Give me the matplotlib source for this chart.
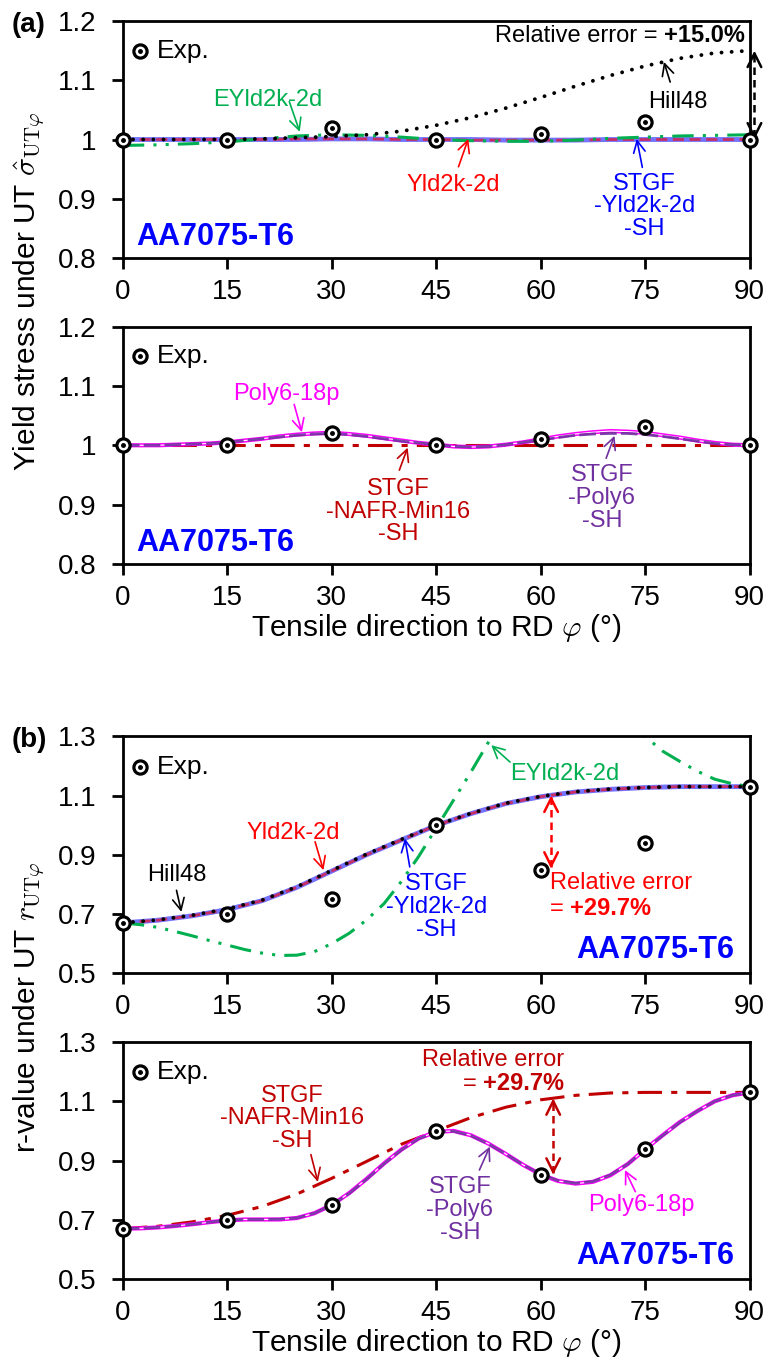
import numpy as np
import matplotlib
matplotlib.use('Agg')
import matplotlib.pyplot as plt

plt.rcParams['font.family'] = ['Liberation Sans', 'DejaVu Sans']
plt.rcParams['mathtext.fontset'] = 'cm'

# ---- data ----
ang_exp = [0, 15, 30, 45, 60, 75, 90]
sig_exp = [1.00, 1.00, 1.02, 1.00, 1.01, 1.03, 1.00]
r_exp = [0.67, 0.70, 0.75, 1.00, 0.85, 0.94, 1.13]

# 5 deg grid for the smooth curves, 2.5 deg grid for the wavy ones
ang = [0, 5, 10, 15, 20, 25, 30, 35, 40, 45, 50, 55, 60, 65, 70, 75, 80, 85, 90]
ang_f = [0, 2.5, 5, 7.5, 10, 12.5, 15, 17.5, 20, 22.5, 25, 27.5, 30, 32.5, 35, 37.5, 40, 42.5,
         45, 47.5, 50, 52.5, 55, 57.5, 60, 62.5, 65, 67.5, 70, 72.5, 75, 77.5, 80, 82.5, 85,
         87.5, 90]

# yield stress curves
sig_hill48 = [1.000, 1.000, 1.000, 1.000, 1.001, 1.003, 1.005, 1.008, 1.014, 1.024, 1.037,
              1.053, 1.071, 1.090, 1.108, 1.124, 1.137, 1.146, 1.150]
sig_eyld = [0.990, 0.991, 0.993, 0.996, 1.001, 1.006, 1.008, 1.007, 1.004, 1.000, 0.998,
            0.997, 0.997, 0.999, 1.002, 1.004, 1.006, 1.007, 1.008]
sig_yld = [1.000, 1.000, 1.000, 1.000, 1.000, 1.001, 1.001, 1.001, 1.000, 1.000, 0.999,
           0.999, 0.999, 0.999, 1.000, 1.000, 1.000, 1.000, 1.000]
sig_stgf_yld = [1.000, 1.000, 1.000, 1.000, 1.000, 1.000, 1.001, 1.001, 1.000, 1.000, 1.000,
                0.999, 0.999, 0.999, 1.000, 1.000, 1.000, 1.000, 1.000]
sig_nafr = [1.000] * 19
sig_poly6 = [1.000, 1.000, 1.000, 1.001, 1.002, 1.003, 1.005, 1.008, 1.011, 1.015, 1.018,
             1.020, 1.021, 1.019, 1.016, 1.012, 1.008, 1.004, 1.001, 0.998, 0.997, 0.998,
             1.001, 1.005, 1.010, 1.015, 1.019, 1.022, 1.024, 1.023, 1.021, 1.017, 1.013,
             1.008, 1.004, 1.001, 1.000]
sig_stgf_poly6 = [1.000, 1.000, 1.000, 1.001, 1.002, 1.003, 1.005, 1.008, 1.011, 1.014, 1.017,
                  1.019, 1.020, 1.018, 1.015, 1.011, 1.007, 1.004, 1.001, 0.998, 0.997, 0.998,
                  1.001, 1.005, 1.009, 1.013, 1.017, 1.019, 1.020, 1.020, 1.018, 1.015, 1.011,
                  1.007, 1.003, 1.001, 1.000]

# r-value curves
r_hill48 = [0.670, 0.680, 0.696, 0.717, 0.747, 0.792, 0.847, 0.902, 0.952, 1.000, 1.040,
            1.074, 1.097, 1.113, 1.122, 1.127, 1.130, 1.130, 1.130]
r_yld = [0.670, 0.679, 0.694, 0.715, 0.745, 0.790, 0.845, 0.900, 0.950, 0.999, 1.039,
         1.073, 1.096, 1.112, 1.121, 1.127, 1.130, 1.130, 1.130]
r_stgf_yld = [0.670, 0.679, 0.694, 0.715, 0.745, 0.790, 0.845, 0.900, 0.950, 0.999, 1.039,
              1.073, 1.096, 1.112, 1.121, 1.127, 1.130, 1.130, 1.130]
r_nafr = [0.670, 0.678, 0.693, 0.715, 0.745, 0.787, 0.840, 0.897, 0.955, 1.000, 1.045,
          1.080, 1.105, 1.120, 1.128, 1.130, 1.130, 1.130, 1.130]
r_eyld = [0.670, 0.664, 0.655, 0.641, 0.626, 0.610, 0.595, 0.580, 0.568, 0.560, 0.561,
          0.573, 0.600, 0.635, 0.680, 0.735, 0.810, 0.895, 0.990, 1.085, 1.180, 1.280,
          1.380, 1.450, 1.500, 1.525, 1.530, 1.500, 1.450, 1.380, 1.300, 1.250, 1.215,
          1.182, 1.155, 1.140, 1.130]
r_poly6 = [0.670, 0.671, 0.674, 0.679, 0.685, 0.692, 0.698, 0.701, 0.701, 0.701, 0.706,
           0.722, 0.750, 0.790, 0.838, 0.890, 0.937, 0.975, 0.997, 1.000, 0.985, 0.957,
           0.922, 0.885, 0.853, 0.831, 0.822, 0.828, 0.850, 0.888, 0.938, 0.985, 1.030,
           1.067, 1.100, 1.120, 1.130]
r_stgf_poly6 = [0.670, 0.671, 0.674, 0.679, 0.685, 0.692, 0.698, 0.701, 0.701, 0.702, 0.706,
                0.722, 0.750, 0.789, 0.837, 0.889, 0.936, 0.974, 0.996, 0.999, 0.984, 0.956,
                0.922, 0.885, 0.854, 0.832, 0.823, 0.829, 0.851, 0.888, 0.937, 0.984, 1.029,
                1.067, 1.100, 1.120, 1.130]

GREEN = '#00b050'
RED = '#ff0000'
BLUE = '#0000ff'
DRED = '#c00000'
PURPLE = '#7030a0'
MAGENTA = '#ff00ff'

FS_TICK = 20
FS_NOTE = 17
FS_LAB = 21.5

fig = plt.figure(figsize=(7.68, 13.65), dpi=100)
L, W, H = 0.160, 0.816, 0.1736
ax1 = fig.add_axes([L, 0.811, W, H])
ax2 = fig.add_axes([L, 0.587, W, H])
ax3 = fig.add_axes([L, 0.287, W, H])
ax4 = fig.add_axes([L, 0.063, W, H])


def style(ax, ylim, yticks, ylabels):
    ax.set_xlim(0, 90)
    ax.set_ylim(*ylim)
    ax.set_xticks(range(0, 91, 15))
    ax.set_yticks(yticks)
    ax.set_yticklabels(ylabels)
    ax.tick_params(direction='out', length=8, width=2, labelsize=FS_TICK)
    ax.tick_params(axis='x', pad=7)
    ax.tick_params(axis='y', pad=11)
    for s in ax.spines.values():
        s.set_linewidth(2)


def exp_points(ax, y, legy):
    ax.plot(ang_exp, y, 'o', ms=9.5, mfc='white', mec='black', mew=2.3, clip_on=False, zorder=10)
    ax.plot(ang_exp, y, 'o', ms=2.5, color='black', clip_on=False, zorder=11)
    ax.plot([0.027], [legy], 'o', ms=9.5, mfc='white', mec='black', mew=2.3, transform=ax.transAxes)
    ax.plot([0.027], [legy], 'o', ms=2.5, color='black', transform=ax.transAxes)
    ax.text(0.055, legy, 'Exp.', transform=ax.transAxes, fontsize=19, va='center')


def note(ax, txt, txy, start, tip, color, ha='center'):
    ax.text(txy[0], txy[1], txt, color=color, fontsize=FS_NOTE, ha=ha, va='center',
            linespacing=1.05)
    ax.annotate('', xy=tip, xytext=start,
                arrowprops=dict(arrowstyle='->,head_length=0.6,head_width=0.3', color=color,
                                lw=1.2, shrinkA=0, shrinkB=0, mutation_scale=14))


def err_arrow(ax, x, y0, y1, color, dh):
    ax.plot([x, x], [y0 + dh * 0.3, y1 - dh * 0.3], color=color, lw=1.8, ls=(0, (3, 2)), clip_on=False)
    for a, b in ((y1 - dh, y1), (y0 + dh, y0)):
        ax.annotate('', xy=(x, b), xytext=(x, a), annotation_clip=False,
                    arrowprops=dict(arrowstyle='->,head_length=0.7,head_width=0.35', color=color,
                                    lw=1.8, shrinkA=0, shrinkB=0, mutation_scale=14))


def material(ax, right):
    if right:
        ax.text(0.976, 0.097, 'AA7075-T6', transform=ax.transAxes, color=BLUE, fontsize=22,
                fontweight='bold', ha='right', va='center')
    else:
        ax.text(0.022, 0.089, 'AA7075-T6', transform=ax.transAxes, color=BLUE, fontsize=22,
                fontweight='bold', ha='left', va='center')


# ---- (a) top: yield stress, classic models ----
ax = ax1
ax.plot(ang, sig_stgf_yld, color=BLUE, lw=3.5, alpha=0.55)
ax.plot(ang, sig_yld, color=RED, lw=2, ls=(0, (4, 2)), alpha=0.6)
ax.plot(ang, sig_eyld, color=GREEN, lw=2.2, ls=(0, (7, 3, 1, 3, 1, 3)))
ax.plot(ang, sig_hill48, color='black', lw=2.8, ls=(0, (0.01, 2.6)), dash_capstyle='round')
exp_points(ax, sig_exp, 0.873)
style(ax, (0.8, 1.2), [0.8, 0.9, 1.0, 1.1, 1.2], ['0.8', '0.9', '1', '1.1', '1.2'])
note(ax, 'EYld2k-2d', (20.8, 1.067), (23.9, 1.064), (25.4, 1.013), GREEN)
note(ax, 'Hill48', (79.7, 1.064), (78.6, 1.097), (77.7, 1.131), 'black')
note(ax, 'Yld2k-2d', (47.4, 0.923), (48.2, 0.954), (49.6, 1.001), RED)
note(ax, 'STGF\n-Yld2k-2d\n-SH', (74.9, 0.887), (74.6, 0.953), (73.8, 1.001), BLUE)
err_arrow(ax, 90.7, 1.0, 1.15, 'black', 0.012)
t = ax.text(89.3, 1.176, '+15.0%', fontsize=17, fontweight='bold', ha='right', va='center')
ax.annotate('Relative error = ', xy=(0, 0), xycoords=t, fontsize=17, ha='right', va='bottom')
material(ax, False)

# ---- (a) bottom: yield stress, polynomial models ----
ax = ax2
ax.plot(ang, sig_nafr, color=DRED, lw=2.2, ls=(0, (8, 3, 2, 3)))
ax.plot(ang_f, sig_poly6, color=MAGENTA, lw=3)
ax.plot(ang_f, sig_poly6, color='white', lw=0.8)
ax.plot(ang_f, sig_stgf_poly6, color=PURPLE, lw=2, ls=(0, (6, 1.5)), alpha=0.9)
exp_points(ax, sig_exp, 0.875)
style(ax, (0.8, 1.2), [0.8, 0.9, 1.0, 1.1, 1.2], ['0.8', '0.9', '1', '1.1', '1.2'])
note(ax, 'Poly6-18p', (23.5, 1.087), (24.6, 1.069), (25.7, 1.022), MAGENTA)
note(ax, 'STGF\n-NAFR-Min16\n-SH', (39.5, 0.888), (39.7, 0.958), (40.9, 0.996), DRED)
note(ax, 'STGF\n-Poly6\n-SH', (68.8, 0.911), (69.4, 0.978), (70.6, 1.016), PURPLE)
ax.set_xlabel(r'Tensile direction to RD $\varphi$ (°)', fontsize=FS_LAB, labelpad=1)
material(ax, False)

# ---- (b) top: r-value, classic models ----
ax = ax3
ax.plot(ang, r_stgf_yld, color=BLUE, lw=3.5, alpha=0.55)
ax.plot(ang, r_yld, color=RED, lw=2, ls=(0, (4, 2)), alpha=0.6)
ax.plot(ang_f, r_eyld, color=GREEN, lw=2.2, ls=(0, (7, 3, 1, 3, 1, 3)))
ax.plot(ang, r_hill48, color='black', lw=2.8, ls=(0, (0.01, 2.6)), dash_capstyle='round')
exp_points(ax, r_exp, 0.870)
style(ax, (0.5, 1.3), [0.5, 0.7, 0.9, 1.1, 1.3], ['0.5', '0.7', '0.9', '1.1', '1.3'])
note(ax, 'Hill48', (7.7, 0.831), (7.7, 0.78), (8.4, 0.707), 'black')
note(ax, 'Yld2k-2d', (24.4, 0.972), (27.6, 0.944), (28.8, 0.848), RED)
note(ax, 'STGF\n-Yld2k-2d\n-SH', (45.0, 0.724), (41.2, 0.859), (40.5, 0.955), BLUE)
note(ax, 'EYld2k-2d', (63.4, 1.174), (55.6, 1.213), (52.9, 1.270), GREEN)
err_arrow(ax, 61.5, 0.853, 1.10, RED, 0.02)
ax.text(61.3, 0.803, 'Relative error', color=RED, fontsize=17, ha='left', va='center')
t = ax.text(61.3, 0.718, '= ', color=RED, fontsize=17, ha='left', va='center')
ax.annotate('+29.7%', xy=(1, 0), xycoords=t, color=RED, fontsize=17, fontweight='bold',
            ha='left', va='bottom')
material(ax, True)

# ---- (b) bottom: r-value, polynomial models ----
ax = ax4
ax.plot(ang, r_nafr, color=DRED, lw=2.2, ls=(0, (8, 3, 2, 3)))
ax.plot(ang_f, r_poly6, color=MAGENTA, lw=3)
ax.plot(ang_f, r_poly6, color='white', lw=0.8)
ax.plot(ang_f, r_stgf_poly6, color=PURPLE, lw=2, ls=(0, (6, 1.5)), alpha=0.9)
exp_points(ax, r_exp, 0.875)
style(ax, (0.5, 1.3), [0.5, 0.7, 0.9, 1.1, 1.3], ['0.5', '0.7', '0.9', '1.1', '1.3'])
note(ax, 'STGF\n-NAFR-Min16\n-SH', (24.3, 1.042), (27.0, 0.92), (28.0, 0.828), DRED)
note(ax, 'STGF\n-Poly6\n-SH', (48.4, 0.733), (51.2, 0.868), (52.7, 0.947), PURPLE)
note(ax, 'Poly6-18p', (74.5, 0.750), (73.6, 0.795), (72.1, 0.868), MAGENTA)
err_arrow(ax, 61.8, 0.852, 1.11, DRED, 0.02)
ax.text(63.4, 1.239, 'Relative error', color=DRED, fontsize=17, ha='right', va='center')
t = ax.text(63.4, 1.160, '+29.7%', color=DRED, fontsize=17, fontweight='bold', ha='right', va='center')
ax.annotate('= ', xy=(0, 0), xycoords=t, color=DRED, fontsize=17, ha='right', va='bottom')
ax.set_xlabel(r'Tensile direction to RD $\varphi$ (°)', fontsize=FS_LAB, labelpad=1)
material(ax, True)

# shared y labels and panel letters
fig.text(0.037, 0.787, r'Yield stress under UT $\hat{\sigma}_{\mathrm{UT}\varphi}$', fontsize=FS_LAB,
         rotation=90, ha='center', va='center')
fig.text(0.037, 0.262, r'r-value under UT $r_{\mathrm{UT}\varphi}$', fontsize=FS_LAB,
         rotation=90, ha='center', va='center')
fig.text(0.015, 1 - 25 / 1365, '(a)', fontsize=20, fontweight='bold', ha='left', va='center')
fig.text(0.015, 1 - 740 / 1365, '(b)', fontsize=20, fontweight='bold', ha='left', va='center')

fig.savefig('out.png', dpi=100)
